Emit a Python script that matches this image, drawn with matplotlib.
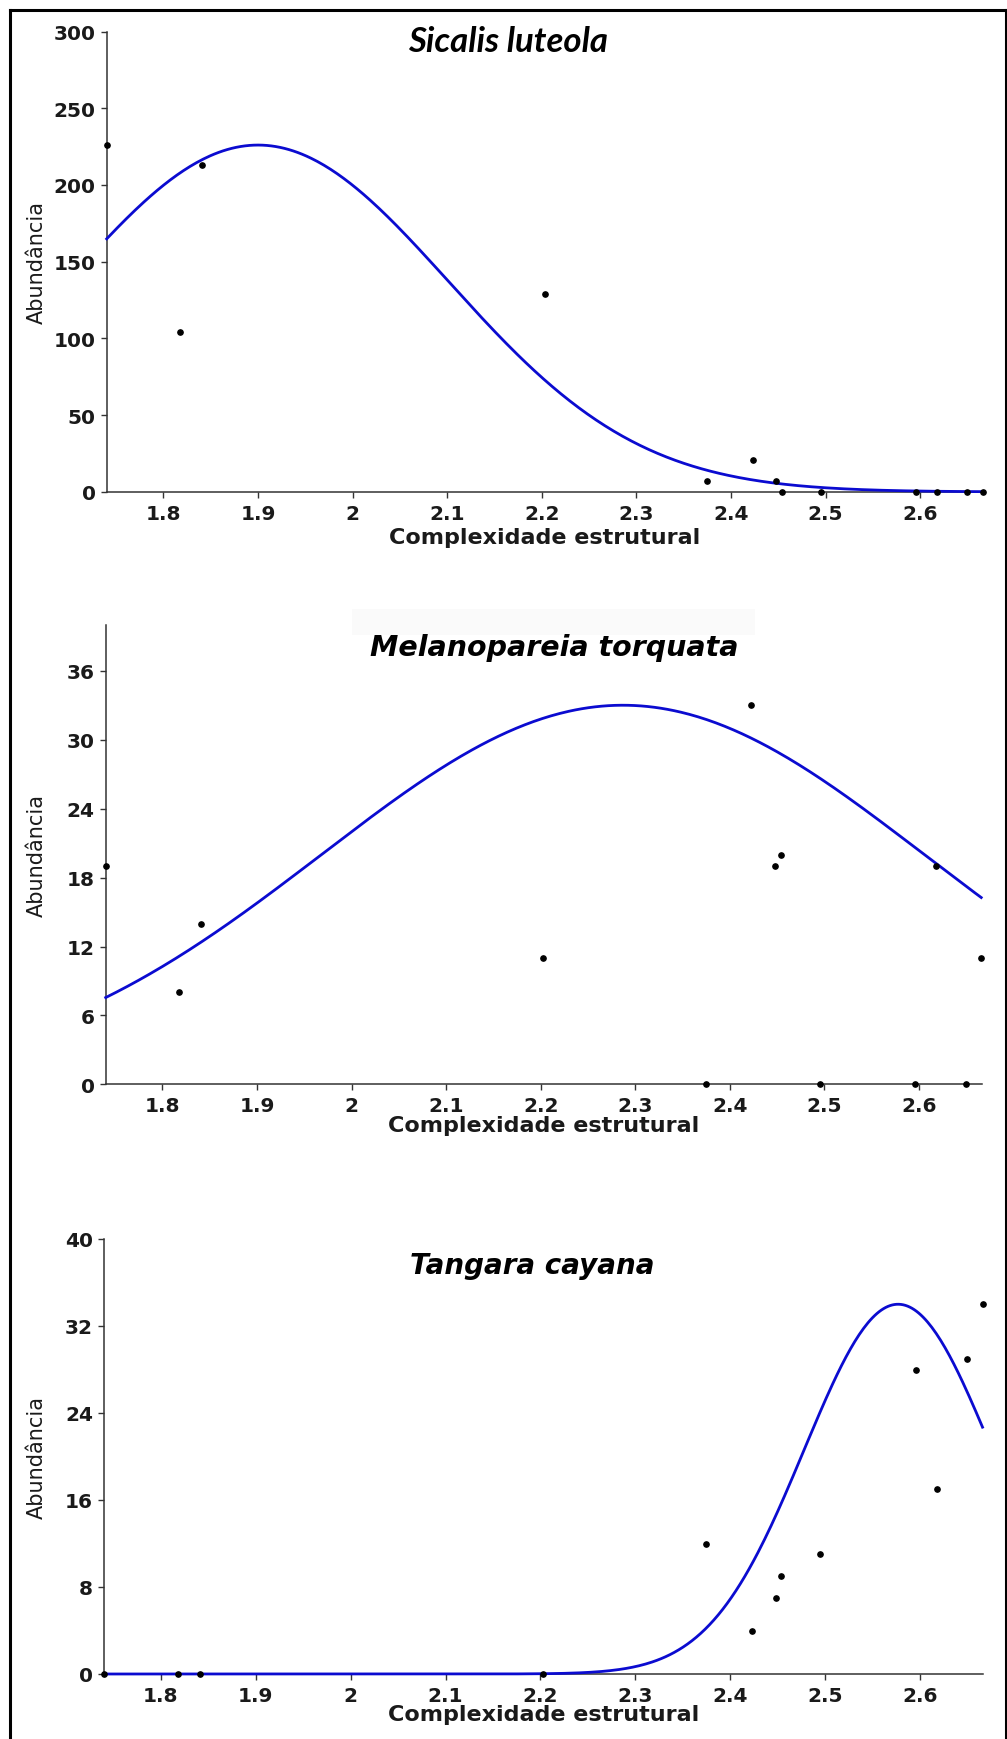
import numpy as np
import matplotlib
matplotlib.use("Agg")
import matplotlib.pyplot as plt
from matplotlib.lines import Line2D
from matplotlib.patches import Rectangle

# ---------------- data ----------------
complexidade = [1.740, 1.818, 1.841, 2.203, 2.375, 2.423, 2.448, 2.454,
                2.495, 2.596, 2.618, 2.650, 2.666]

sicalis = [226, 104, 213, 129, 7, 21, 7, 0, 0, 0, 0, 0, 0]
melanopareia = [19, 8, 14, 11, 0, 33, 19, 20, 0, 0, 19, 0, 11]
tangara = [0, 0, 0, 0, 12, 4, 7, 9, 11, 28, 17, 29, 34]

species = ["Sicalis luteola", "Melanopareia torquata", "Tangara cayana"]

# Gaussian response-curve parameters
fit_optimum = [1.900, 2.287, 2.577]
fit_tolerance = [0.2015, 0.3186, 0.099]
fit_maximum = [226, 33, 34]

y_limits = [300, 40, 40]
y_ticks = [[0, 50, 100, 150, 200, 250, 300],
           [0, 6, 12, 18, 24, 30, 36],
           [0, 8, 16, 24, 32, 40]]
x_ticks = [1.8, 1.9, 2.0, 2.1, 2.2, 2.3, 2.4, 2.5, 2.6]
x_ticklabels = ["1.8", "1.9", "2", "2.1", "2.2", "2.3", "2.4", "2.5", "2.6"]
x_limits = (1.740, 2.6665)

xlabel = "Complexidade estrutural"
ylabel = "Abundância"

# ---------------- layout ----------------
W, H = 1007, 1740
fig = plt.figure(figsize=(W / 100, H / 100), dpi=100)
fig.patch.set_facecolor("white")


def fx(px):
    return px / W


def fy(py):
    return 1 - py / H


# axes rectangles in pixels: left, right, top, bottom
rects = [(106.7, 983.0, 32.5, 492.9),
         (105.7, 981.7, 625.8, 1085.4),
         (104.0, 983.0, 1240.0, 1675.0)]
title_pos = [(508, 42, "Lato"), (554, 648, "DejaVu Sans"), (532, 1266, "DejaVu Sans")]
title_size = [25, 20.5, 20]
xlabel_base = [544, 1132, 1721]
ylabel_x = 37

series = [sicalis, melanopareia, tangara]
line_color = "#0b0bd0"
spine_color = "#333333"

for i in range(3):
    l, r, t, b = rects[i]
    ax = fig.add_axes([fx(l), fy(b), (r - l) / W, (b - t) / H])
    ax.set_xlim(*x_limits)
    ax.set_ylim(0, y_limits[i])
    for s in ["top", "right"]:
        ax.spines[s].set_visible(False)
    for s in ["left", "bottom"]:
        ax.spines[s].set_color(spine_color)
        ax.spines[s].set_linewidth(1.1)
    ax.set_xticks(x_ticks)
    ax.set_xticklabels(x_ticklabels)
    ax.set_yticks(y_ticks[i])
    ax.tick_params(axis="both", direction="out", length=4.5, width=1.0,
                   color=spine_color, labelcolor="#1a1a1a", labelsize=14.5)
    ax.tick_params(axis="x", pad=4)
    ax.tick_params(axis="y", pad=3.5)
    for lab in ax.get_xticklabels() + ax.get_yticklabels():
        lab.set_fontfamily("DejaVu Sans")
        lab.set_fontweight("bold")

    xs = np.linspace(x_limits[0], complexidade[-1], 400)
    ys = fit_maximum[i] * np.exp(-(xs - fit_optimum[i]) ** 2 / (2 * fit_tolerance[i] ** 2))
    ax.plot(xs, ys, color=line_color, lw=2.0, clip_on=False, zorder=3)
    ax.plot(complexidade, series[i], "o", color="black", markersize=3.8,
            clip_on=False, zorder=4)

    # labels
    fig.text(fx((l + r) / 2), fy(xlabel_base[i]), xlabel, ha="center", va="baseline",
             fontsize=16, fontweight="bold", family="DejaVu Sans", color="#1a1a1a")
    fig.text(fx(ylabel_x), fy((t + b) / 2), ylabel, ha="center", va="center",
             rotation=90, fontsize=15, family="DejaVu Sans", color="#1a1a1a")

    tx, ty, fam = title_pos[i]
    if i == 1:
        fig.patches.append(Rectangle((fx(352), fy(636)), (755 - 352) / W, 26 / H,
                                     transform=fig.transFigure, facecolor="#fafafa",
                                     edgecolor="none", zorder=0))
    fig.text(fx(tx), fy(ty), species[i], ha="center", va="center",
             fontsize=title_size[i], fontweight="bold", style="italic",
             family=fam, color="black")

# outer frame (left, top, right)
frame_kw = dict(color="black", lw=2.2, transform=fig.transFigure)
fig.lines.append(Line2D([fx(9.7), fx(9.7)], [0, fy(10.7)], **frame_kw))
fig.lines.append(Line2D([fx(9.7), fx(1006)], [fy(10.7), fy(10.7)], **frame_kw))
fig.lines.append(Line2D([fx(1006), fx(1006)], [0, fy(10.7)], **frame_kw))

fig.savefig("out.png", dpi=100)
